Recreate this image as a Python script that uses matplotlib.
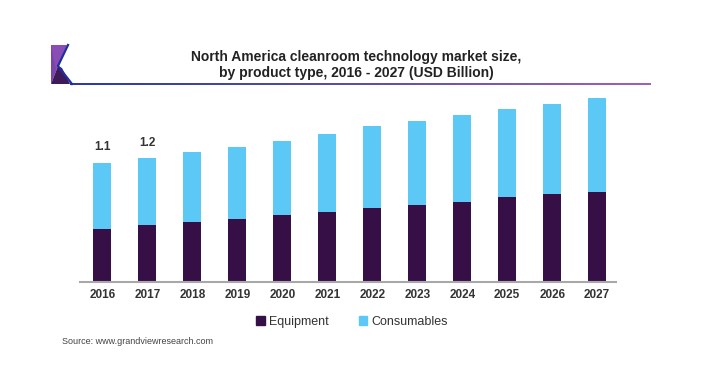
import matplotlib
matplotlib.use("Agg")
import matplotlib.pyplot as plt
from matplotlib.patches import Polygon, Rectangle
from matplotlib.lines import Line2D
import numpy as np

plt.rcParams['font.family'] = ['Liberation Sans', 'DejaVu Sans']

years = ["2016", "2017", "2018", "2019", "2020", "2021", "2022", "2023", "2024", "2025", "2026", "2027"]
equipment = [0.51, 0.55, 0.57, 0.60, 0.64, 0.67, 0.71, 0.74, 0.77, 0.81, 0.84, 0.86]
consumables = [0.63, 0.635, 0.67, 0.69, 0.71, 0.75, 0.78, 0.805, 0.83, 0.85, 0.86, 0.90]
value_labels = {"2016": "1.1", "2017": "1.2"}

title = "North America cleanroom technology market size,\nby product type, 2016 - 2027 (USD Billion)"
source = "Source: www.grandviewresearch.com"

c_equip = "#370f47"
c_cons = "#5bc8f5"

W, H = 720, 390
fig = plt.figure(figsize=(7.2, 3.9), dpi=100)

def fx(x):
    return x / W

def fy(y):
    return 1 - y / H

# axes: baseline y=282, x from 80 to 616
ax = fig.add_axes([fx(80), fy(282), fx(616) - fx(80), (282 - 94) / H])
x = np.arange(len(years))
ax.bar(x, equipment, width=0.4, color=c_equip, label="Equipment")
ax.bar(x, consumables, width=0.4, bottom=equipment, color=c_cons, label="Consumables")
ax.set_xlim(-0.5, 11.42)
ax.set_ylim(0, 1.80)
for s in ["top", "right", "left"]:
    ax.spines[s].set_visible(False)
ax.spines["bottom"].set_color("#a8a8a8")
ax.spines["bottom"].set_linewidth(1.5)
ax.set_yticks([])
ax.set_xticks(x)
ax.set_xticklabels(years, fontsize=8.5, fontweight="bold", color="#333333")
ax.tick_params(axis="x", length=0, pad=5)

for i, yr in enumerate(years):
    if yr in value_labels:
        tot = equipment[i] + consumables[i]
        ax.annotate(value_labels[yr], (i, tot), xytext=(0, 7), textcoords="offset points",
                    ha="center", va="bottom", fontsize=8.5, fontweight="bold", color="#333333")

# title
fig.text(fx(356), fy(65), title, ha="center", va="center", fontsize=10, fontweight="bold",
         color="#222222", linespacing=1.25)

# header gradient line
lax = fig.add_axes([fx(70), fy(85), fx(651) - fx(70), 2.2 / H])
grad = np.linspace(0, 1, 256).reshape(1, -1)
cmap = matplotlib.colors.LinearSegmentedColormap.from_list("g", ["#2a3aa8", "#5a4fb0", "#a060c0"])
lax.imshow(grad, aspect="auto", cmap=cmap, extent=[0, 1, 0, 1])
lax.axis("off")

# logo
def poly(pts_px, color, **kw):
    p = Polygon([[fx(a), fy(b)] for a, b in pts_px], closed=True, facecolor=color,
                edgecolor="none", transform=fig.transFigure, **kw)
    fig.add_artist(p)

poly([(51, 45), (67, 45), (58, 66), (51, 84)], "#8a4db5")
poly([(51, 84), (58, 66), (62, 68), (70, 84)], "#3f1a5a")
poly([(51, 45), (51, 84), (56, 70)], "#7a45a8")
k = Line2D([fx(68), fx(58), fx(72)], [fy(45), fy(66), fy(84)], color="#1f2f9e", lw=1.6,
           transform=fig.transFigure)
fig.add_artist(k)

# legend
handles = [Rectangle((0, 0), 1, 1, color=c_equip), Rectangle((0, 0), 1, 1, color=c_cons)]
fig.legend(handles, ["Equipment", "Consumables"], loc="center", bbox_to_anchor=(fx(352), fy(322)),
           ncol=2, frameon=False, fontsize=9, handlelength=0.7, handleheight=0.7,
           handletextpad=0.3, columnspacing=2.4, labelcolor="#333333")

fig.text(fx(62), fy(341), source, ha="left", va="center", fontsize=6.5, color="#444444")

fig.savefig("out.png", dpi=100)
